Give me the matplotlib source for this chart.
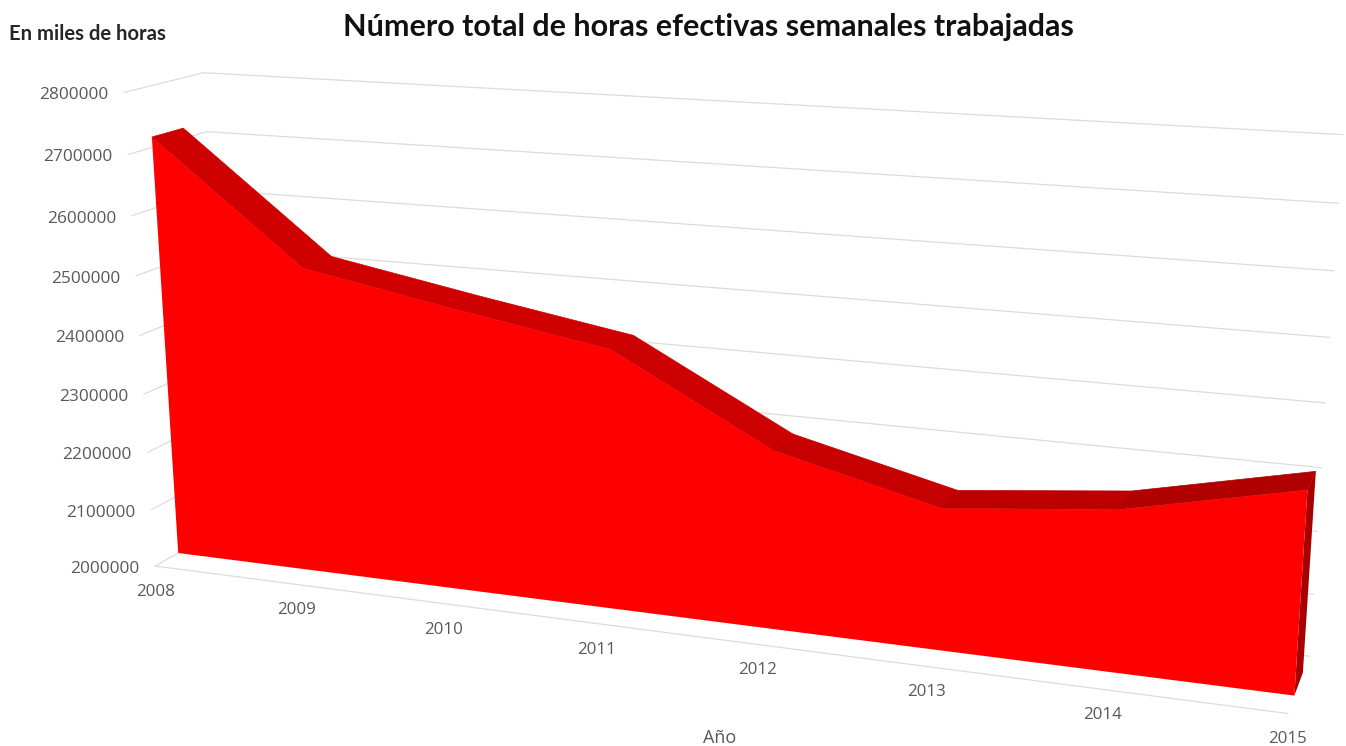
import numpy as np
import matplotlib
matplotlib.use('Agg')
import matplotlib.pyplot as plt

years = [2008, 2009, 2010, 2011, 2012, 2013, 2014, 2015]
horas = [2717000, 2518000, 2472000, 2429000, 2292000, 2228000, 2256000, 2315000]
ticks_y = [2000000, 2100000, 2200000, 2300000, 2400000, 2500000, 2600000, 2700000, 2800000]

# where the box of the 3d chart lands in the picture: (year, depth, value) -> pixel
calib = [((2008, 0, 2000000), (155, 566)), ((2008, 0, 2800000), (123, 93)),
         ((2008, 0, 2400000), (142, 336)), ((2008, 0, 2700000), (128, 154)),
         ((2008, 0, 2200000), (147, 452)), ((2008, 1, 2800000), (205, 73)),
         ((2008, 1, 2700000), (205, 131)), ((2015, 1, 2800000), (1343, 134)),
         ((2015, 1, 2700000), (1338, 203)), ((2015, 1, 2500000), (1330, 339)),
         ((2015, 1, 2300000), (1321, 468)), ((2015, 1, 2200000), (1317, 530)),
         ((2015, 1, 2000000), (1309, 657)), ((2015, 0, 2000000), (1288, 713))]


def scale(year, depth, val):
    return year - 2008.0, depth, (val - 2000000) / 100000.0


rows = []
for p, (u, v) in calib:
    x, y, z = scale(*p)
    rows.append([x, y, z, 1, 0, 0, 0, 0, -u * x, -u * y, -u * z, -u])
    rows.append([0, 0, 0, 0, x, y, z, 1, -v * x, -v * y, -v * z, -v])
cam = np.linalg.svd(np.array(rows, float))[2][-1].reshape(3, 4)


def project(year, depth, val):
    x, y, z = scale(np.asarray(year, float), np.asarray(depth, float), np.asarray(val, float))
    h = cam @ np.vstack([x, y, z, np.ones_like(z)])
    return h[0] / h[2], h[1] / h[2]


def at(year, depth, val):
    x, y = project([year], [depth], [val])
    return float(x[0]), float(y[0])


FRONT = 0.3
BACK = 0.7
GRID = '#dcdcdc'
LABEL = '#595959'

fig = plt.figure(figsize=(13.46, 7.46), dpi=100)
ax = fig.add_axes([0, 0, 1, 1])
ax.set_xlim(0, 1346)
ax.set_ylim(746, 0)
ax.axis('off')

# walls
for t in ticks_y:
    x, y = project([2008, 2008, 2015], [0, 1, 1], [t, t, t])
    ax.plot(x, y, color=GRID, lw=0.9, zorder=1)
    ax.annotate(str(t), at(2008, 0, t), xytext=(-16, -3), textcoords='offset pixels',
                ha='right', va='center', fontsize=12.4, family='Open Sans', color=LABEL)
x, y = project([2008, 2015], [0, 0], [2000000, 2000000])
ax.plot(x, y, color=GRID, lw=0.9, zorder=1)
for yr in years:
    ax.annotate(str(yr), at(yr, 0, 2000000), xytext=(0, -26), textcoords='offset pixels',
                ha='center', va='center', fontsize=12.2, family='Open Sans', color=LABEL)

# area: side, top ribbon, front
first, last = years[0], years[-1]
x, y = project([last, last, last, last], [FRONT, BACK, BACK, FRONT],
               [2000000, 2000000, horas[-1], horas[-1]])
ax.fill(x, y, color='#a80000', lw=0, zorder=2)
shades = ['#ce0000', '#ce0000', '#ce0000', '#cc0000', '#c60000', '#bc0000', '#b00000']
for i, c in enumerate(shades):
    x, y = project([years[i], years[i + 1], years[i + 1], years[i]], [FRONT, FRONT, BACK, BACK],
                   [horas[i], horas[i + 1], horas[i + 1], horas[i]])
    ax.fill(x, y, color=c, lw=0.5, zorder=3)
x, y = project(years + [last, first], [FRONT] * 10, horas + [2000000, 2000000])
ax.fill(x, y, color='#ff0000', lw=0, zorder=4)

ax.text(708, 27, 'Número total de horas efectivas semanales trabajadas', ha='center', va='center',
        fontsize=22, fontweight='bold', family='Lato', color='#111111')
ax.text(87, 34, 'En miles de horas', ha='center', va='center', fontsize=14.6, fontweight='bold',
        family='Lato', color='#262626')
ax.text(720, 738, 'Año', ha='center', va='center', fontsize=13, family='Open Sans', color=LABEL)

fig.savefig('out.png', dpi=100)
